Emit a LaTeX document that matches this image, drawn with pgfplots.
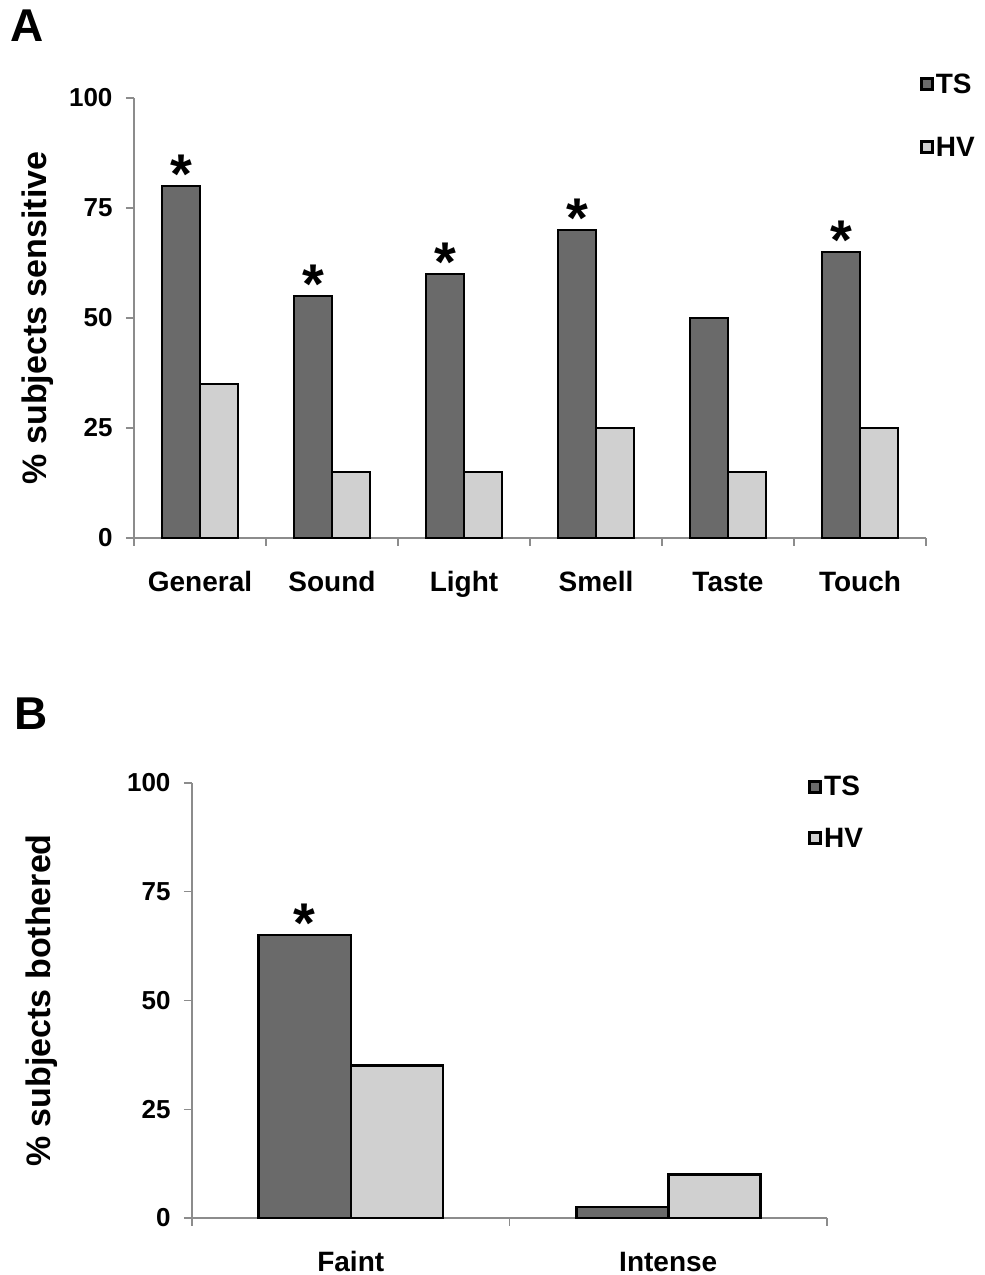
\documentclass[border=0pt]{standalone}
\usepackage{fontspec}
\setmainfont{Liberation Sans}
\usepackage{pgfplots}
\pgfplotsset{compat=1.18}
\definecolor{ts}{HTML}{6A6A6A}
\definecolor{hv}{HTML}{D0D0D0}
\definecolor{axgray}{HTML}{8C8C8C}

\pgfplotsset{
 mybars/.style={
  scale only axis, anchor=south west, clip=false,
  ybar=0pt,
  ymin=0, ymax=100, ytick={0,25,50,75,100},
  axis x line*=bottom, axis y line*=left,
  axis line style={axgray, line width=1.2pt, -},
  tick style={axgray, line width=1.2pt},
  major tick length=8pt,
  tick align=outside,
  x tick label as interval,
  tick label style={font=\bfseries\fontsize{26}{30}\selectfont},
  /pgf/number format/assume math mode=true,
  yticklabel style={xshift=-10pt},
  xticklabel style={font=\bfseries\fontsize{28}{32}\selectfont, text height=21pt, text depth=0pt, inner sep=0pt, yshift=-24pt},
  ylabel style={font=\bfseries\fontsize{34}{38}\selectfont, anchor=center},
  legend style={draw=none, fill=none, font=\bfseries\fontsize{28}{32}\selectfont, inner sep=0pt, anchor=north west},
  legend cell align=left,
  legend image code/.code={\draw[##1,/tikz/.cd,line width=3pt] (0pt,-5.5pt) rectangle (11pt,5.5pt);},
 },
 tsbar/.style={fill=ts, draw=black, line width=2.5pt,
  point meta=explicit symbolic,
  nodes near coords={\pgfplotspointmeta},
  every node near coord/.append style={font=\bfseries\fontsize{56}{56}\selectfont, black, anchor=south, yshift=-12pt}},
 hvbar/.style={fill=hv, draw=black, line width=2.5pt},
}

\begin{document}
\begin{tikzpicture}
\useasboundingbox (0,0) rectangle (985pt,1275pt);

\node[anchor=base west, inner sep=0pt, font=\bfseries\fontsize{46}{46}\selectfont] at (10pt,1233pt) {A};
\node[anchor=base west, inner sep=0pt, font=\bfseries\fontsize{46}{46}\selectfont] at (14pt,545pt) {B};

% Panel A
\begin{axis}[mybars,
  at={(134pt,737pt)}, width=792pt, height=440pt,
  xmin=0, xmax=6, xtick={0,1,2,3,4,5,6},
  xticklabels={General,Sound,Light,Smell,Taste,Touch},
  bar width=38pt,
  ylabel={\% subjects sensitive},
  ylabel style={at={(axis description cs:-0.121,0.5)}},
  legend style={at={(axis description cs:0.992,1.06)}, row sep=38pt},
]
\addplot[tsbar] coordinates {(0.5,80) [*] (1.5,55) [*] (2.5,60) [*] (3.5,70) [*] (4.5,50) [{}] (5.5,65) [*]};
\addplot[hvbar] coordinates {(0.5,35) (1.5,15) (2.5,15) (3.5,25) (4.5,15) (5.5,25)};
\legend{TS,HV}
\end{axis}

% Panel B
\begin{axis}[mybars,
  at={(192pt,57pt)}, width=635pt, height=435pt,
  xmin=0, xmax=2, xtick={0,1,2},
  xticklabels={Faint,Intense},
  bar width=92pt,
  ylabel={\% subjects bothered},
  ylabel style={at={(axis description cs:-0.236,0.5)}},
  legend style={at={(axis description cs:0.970,1.021)}, row sep=27pt},
]
\addplot[tsbar] coordinates {(0.5,65) [*] (1.5,2.5) [{}]};
\addplot[hvbar] coordinates {(0.5,35) (1.5,10)};
\legend{TS,HV}
\end{axis}
\end{tikzpicture}
\end{document}
